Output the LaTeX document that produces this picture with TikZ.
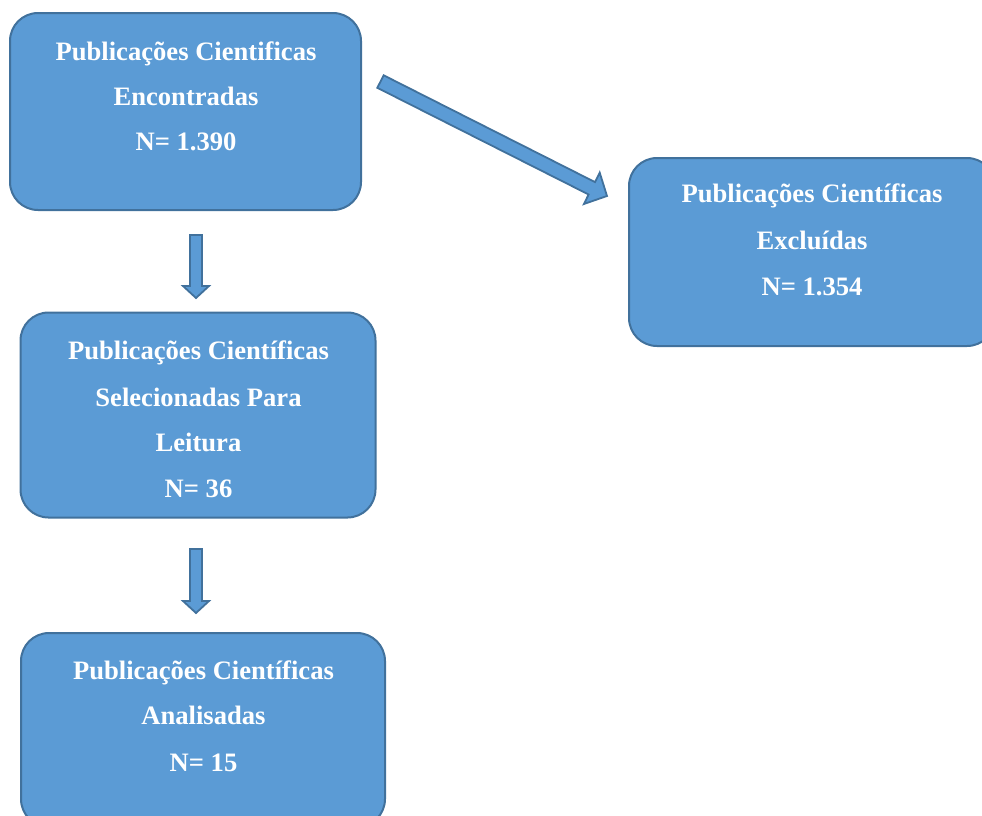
\documentclass[tikz,border=0pt]{standalone}
\usepackage{fontspec}
\setmainfont{Liberation Serif}
\definecolor{boxfill}{HTML}{5B9BD5}
\definecolor{boxline}{HTML}{41719C}
\begin{document}
\begin{tikzpicture}[x=1pt,y=-1pt,
  box/.style={draw=boxline, fill=boxfill, line width=2pt, rounded corners=28pt, inner sep=0pt},
  blockarrow/.style={draw=boxline, fill=boxfill, line width=1.8pt, line join=miter},
  lbl/.style={text=white, font=\fontsize{26.6}{30}\selectfont\bfseries, anchor=base, inner sep=0pt}]
\useasboundingbox (0,0) rectangle (982,815);
\clip (0,0) rectangle (982,815);
% boxes
\node[box, minimum width=351pt, minimum height=197pt] (b1) at (185.5,111.5) {};
\node[box, minimum width=366pt, minimum height=188pt] (b2) at (812,252) {};
\node[box, minimum width=355pt, minimum height=205pt] (b3) at (198,415) {};
\node[box, minimum width=364pt, minimum height=194pt] (b4) at (203,730) {};
% texts
\node[lbl] (t11) at (186,60) {Publicações Cientificas};
\node[lbl] (t12) at (186,105) {Encontradas};
\node[lbl] (t13) at (186,150) {N= 1.390};
\node[lbl] (t21) at (812,202.5) {Publicações Científicas};
\node[lbl] (t22) at (812,249) {Excluídas};
\node[lbl] (t23) at (812,295) {N= 1.354};
\node[lbl] (t31) at (198.5,359.5) {Publicações Científicas};
\node[lbl] (t32) at (198.5,406) {Selecionadas Para};
\node[lbl] (t33) at (198.5,451.5) {Leitura};
\node[lbl] (t34) at (198.5,497.5) {N= 36};
\node[lbl] (t41) at (203.5,679) {Publicações Científicas};
\node[lbl] (t42) at (203.5,724.5) {Analisadas};
\node[lbl] (t43) at (203.5,771.5) {N= 15};
% down arrow 1
\draw[blockarrow] (190,235) -- (202,235) -- (202,286) -- (209,286) -- (196,298)
  -- (183,286) -- (190,286) -- cycle;
% down arrow 2
\draw[blockarrow] (190,549) -- (202,549) -- (202,601) -- (209,601) -- (196,613)
  -- (183,601) -- (190,601) -- cycle;
% diagonal arrow
\draw[blockarrow] (377.3,87.8) -- (383.7,75.3) -- (595.0,182.1) -- (599.7,172.6)
  -- (607,196) -- (583.9,204.0) -- (588.6,194.5) -- cycle;
\end{tikzpicture}
\end{document}
